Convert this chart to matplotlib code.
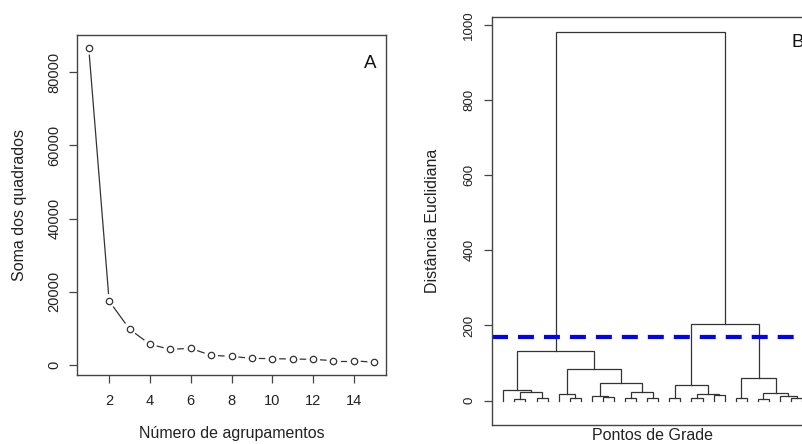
import numpy as np
import matplotlib
matplotlib.use('Agg')
import matplotlib.pyplot as plt

plt.rcParams['font.family'] = ['Liberation Sans', 'DejaVu Sans']

# ---------------- Data: panel A (elbow) ----------------
k_values = list(range(1, 16))
wss_values = [86700, 17500, 9800, 5650, 4280, 4550, 2640, 2370,
              1820, 1730, 1640, 1550, 1180, 1180, 730]
a_xticks = [2, 4, 6, 8, 10, 12, 14]
a_yticks = [0, 20000, 40000, 60000, 80000]

# ---------------- Data: panel B (dendrogram, R-style merge table) ----------------
n_leaves = 28
merge_left = [-2, -4, 1, -1, -7, -6, -10, -9, -12, -14, 9, 8, 6, 4,
              -16, -18, -20, 16, 15, -22, -24, -27, -26, 21, 20, 19, 14]
merge_right = [-3, -5, 2, 3, -8, 5, -11, 7, -13, -15, 10, 11, 12, 13,
               -17, -19, -21, 17, 18, -23, -25, -28, 22, 23, 24, 25, 26]
merge_height = [5, 8, 24, 27, 7, 18, 10, 12, 6, 7, 24, 48, 85, 133,
                6, 7, 15, 17, 42, 6, 4, 8, 13, 21, 61, 203, 980]
cut_height = 169
b_yticks = [0, 200, 400, 600, 800, 1000]

W, H = 802, 444
fig = plt.figure(figsize=(W / 100, H / 100), dpi=100)

def pos(l, t, r, b):
    return [l / W, 1 - b / H, (r - l) / W, (b - t) / H]

box_col = '#444444'
txt_col = '#222222'
line_col = '#333333'

# ---------------- Panel A ----------------
axA = fig.add_axes(pos(77.3, 34.7, 385.7, 375))
axA.set_xlim(0.44, 15.56)
axA.set_ylim(-2730, 90250)
for s in axA.spines.values():
    s.set_color(box_col)
    s.set_linewidth(1.0)
axA.set_xticks(a_xticks)
axA.set_yticks(a_yticks)
axA.set_yticklabels([str(v) for v in a_yticks], rotation=90, va='center')
axA.tick_params(axis='both', direction='out', length=5.5, width=0.9,
                color=box_col, labelsize=10.5, labelcolor=txt_col)
axA.tick_params(axis='x', pad=8)
axA.tick_params(axis='y', pad=6)

# type="b": lines with gaps around points
fig.canvas.draw()
pts = axA.transData.transform(np.column_stack([k_values, wss_values]))
gap = 7.5
inv = axA.transData.inverted()
for i in range(len(pts) - 1):
    p0, p1 = pts[i], pts[i + 1]
    d = p1 - p0
    L = np.hypot(*d)
    if L > 2 * gap + 1:
        u = d / L
        a = inv.transform(p0 + u * gap)
        b = inv.transform(p1 - u * gap)
        axA.plot([a[0], b[0]], [a[1], b[1]], color=line_col, lw=0.9)
axA.plot(k_values, wss_values, 'o', ms=4.6, mfc='none', mec=line_col, mew=0.9)
axA.text(0.969, 0.94, 'A', transform=axA.transAxes, fontsize=13.5,
         ha='right', va='top', color='#111111')

fig.text(20 / W, 1 - 205 / H, 'Soma dos quadrados', rotation=90,
         ha='center', va='center', fontsize=11.5, color=txt_col)
fig.text(231.5 / W, 1 - 433 / H, 'Número de agrupamentos',
         ha='center', va='center', fontsize=11.5, color=txt_col)

# ---------------- Panel B ----------------
axB = fig.add_axes(pos(491.7, 17, 813.8, 425))
axB.set_xlim(1 - 1.05, n_leaves + 1.05)
axB.set_ylim(-65, 1021)
for s in axB.spines.values():
    s.set_color(box_col)
    s.set_linewidth(1.0)
axB.set_xticks([])
axB.set_yticks(b_yticks)
axB.set_yticklabels([str(v) for v in b_yticks], rotation=90, va='center')
axB.tick_params(axis='y', direction='out', length=5.8, width=0.9,
                color=box_col, labelsize=9.5, labelcolor=txt_col, pad=6)

# compute leaf order & node positions
def order(node):
    if node < 0:
        return [-node]
    return order(merge_left[node - 1]) + order(merge_right[node - 1])

leaf_order = order(len(merge_height))
leaf_x = {leaf: i + 1 for i, leaf in enumerate(leaf_order)}
node_x = {}
def nx(node):
    if node < 0:
        return leaf_x[-node]
    return node_x[node]
def nh(node):
    if node < 0:
        return 0.0
    return merge_height[node - 1]
for i in range(len(merge_height)):
    l, r = merge_left[i], merge_right[i]
    xl, xr = nx(l), nx(r)
    h = merge_height[i]
    axB.plot([xl, xl, xr, xr], [nh(l), h, h, nh(r)], color=line_col,
             lw=0.9, solid_joinstyle='miter', clip_on=True)
    node_x[i + 1] = (xl + xr) / 2

lw_cut = 3.0
axB.axhline(cut_height, color='#0000ff', lw=lw_cut,
            dashes=(11.5 / lw_cut, 7.2 / lw_cut))
axB.text(27.07, 952, 'B', fontsize=13.5, ha='left', va='center',
         color='#111111', clip_on=False)

fig.text(433 / W, 1 - 221 / H, 'Distância Euclidiana', rotation=90,
         ha='center', va='center', fontsize=11.5, color=txt_col)
fig.text(652 / W, 1 - 435 / H, 'Pontos de Grade',
         ha='center', va='center', fontsize=11.5, color=txt_col)

fig.savefig('out.png', dpi=100)
